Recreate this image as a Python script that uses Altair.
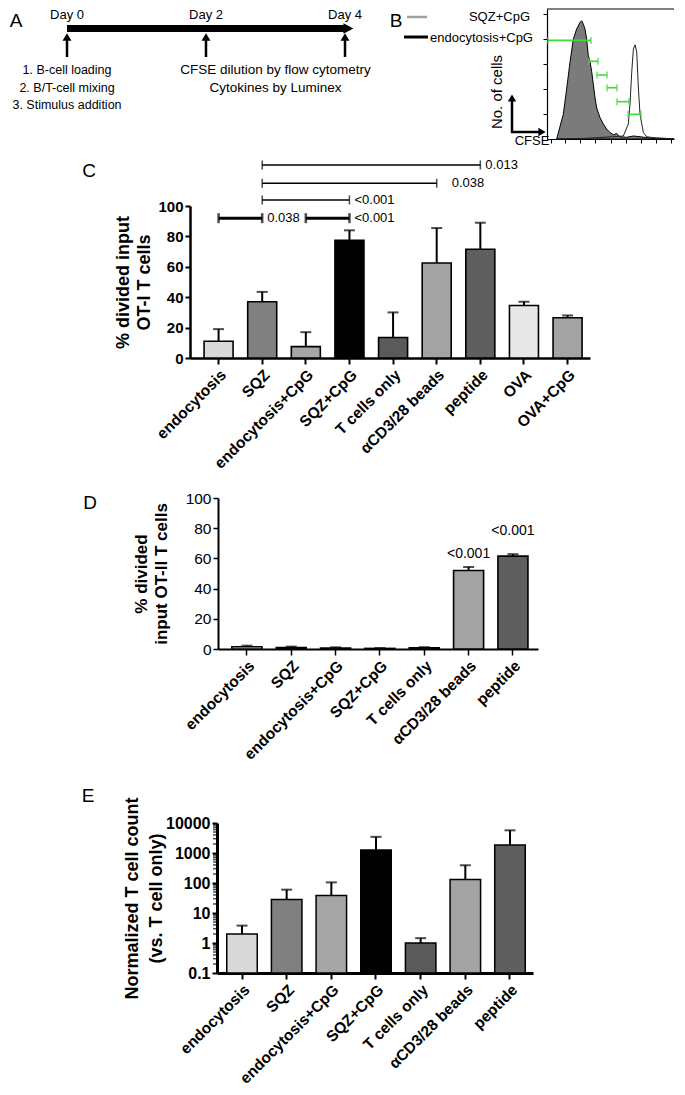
import altair as alt
import pandas as pd

FONT = "Liberation Sans"
OX = 8  # horizontal shift compensating the page margin
OY = 8  # vertical shift of the first row

# ---------------- Panel A : timeline ----------------
days = [0, 2, 4]
day_labels = ["Day 0", "Day 2", "Day 4"]
setup_steps = ["1. B-cell loading", "2. B/T-cell mixing", "3. Stimulus addition"]
readouts = ["CFSE dilution by flow cytometry", "Cytokines by Luminex"]

# ---------------- Panel B : CFSE histogram ----------------
legend_labels = ["SQZ+CpG", "endocytosis+CpG"]
cfse_filled = [7.0, 11.8, 14.3, 16.7, 19.1, 21.5, 23.9, 25.1, 26.3, 27.5, 28.7, 29.9, 31.2, 32.4,
               33.6, 34.8, 36.0, 38.4, 40.8, 43.2, 45.7, 48.1, 50.5, 52.9, 57.7, 62.6, 67.4, 74.6,
               86.7, 92.0]
count_filled = [0.0, 0.99, 2.04, 3.10, 4.02, 4.42, 4.68, 4.75, 4.61, 4.42, 4.02, 3.36, 3.10, 2.70,
                2.18, 1.65, 1.25, 0.86, 0.60, 0.40, 0.26, 0.17, 0.22, 0.09, 0.07, 0.12, 0.09, 0.04,
                0.02, 0.01]
cfse_open = [7.0, 28.7, 48.1, 55.3, 58.9, 60.1, 61.4, 62.6, 63.8, 65.0, 66.2, 67.4, 69.8, 72.2, 79.5, 92.0]
count_open = [0.0, 0.03, 0.09, 0.12, 0.60, 1.38, 2.70, 3.62, 3.78, 3.49, 2.04, 0.99, 0.26, 0.09, 0.04, 0.01]
gate_start = [0.7, 30.4, 36.2, 43.5, 50.7, 58.7]
gate_end = [31.9, 37.0, 43.5, 50.7, 59.4, 68.1]
gate_level = [3.96, 3.12, 2.57, 2.06, 1.50, 0.99]

# ---------------- Panel C : OT-I ----------------
cats_c = ["endocytosis", "SQZ", "endocytosis+CpG", "SQZ+CpG", "T cells only",
          "αCD3/28 beads", "peptide", "OVA", "OVA+CpG"]
mean_c = [11, 37, 7.5, 77.5, 13.5, 62.5, 71.5, 34.5, 26.5]
err_c = [19, 43.5, 17, 84, 30, 85.5, 89, 37, 28]
colors_c = ["#d9d9d9", "#808080", "#a6a6a6", "#000000", "#5a5a5a", "#a3a3a3", "#5f5f5f",
            "#e8e8e8", "#a3a3a3"]
cmp_from = ["endocytosis", "endocytosis+CpG", "SQZ", "SQZ", "SQZ"]
cmp_to = ["SQZ", "SQZ+CpG", "SQZ+CpG", "αCD3/28 beads", "peptide"]
cmp_level = [92, 92, 104, 115, 127]
cmp_p = ["0.038", "<0.001", "<0.001", "0.038", "0.013"]
cmp_thick = [True, True, False, False, False]

# ---------------- Panel D : OT-II ----------------
cats_d = ["endocytosis", "SQZ", "endocytosis+CpG", "SQZ+CpG", "T cells only",
          "αCD3/28 beads", "peptide"]
mean_d = [1.5, 1.0, 0.7, 0.4, 0.8, 52, 61.5]
err_d = [2.2, 1.6, 1.1, 0.6, 1.2, 54.3, 62.8]
colors_d = ["#d9d9d9", "#808080", "#a6a6a6", "#000000", "#5a5a5a", "#a3a3a3", "#5f5f5f"]
p_cats_d = ["αCD3/28 beads", "peptide"]
p_level_d = [63, 78]
p_text_d = ["<0.001", "<0.001"]

# ---------------- Panel E : normalized count ----------------
cats_e = cats_d
mean_e = [2.0, 28, 38, 1250, 1.0, 132, 1850]
err_e = [3.8, 60, 105, 3450, 1.45, 390, 5700]
colors_e = ["#d9d9d9", "#808080", "#a6a6a6", "#000000", "#5e5e5e", "#a6a6a6", "#5f5f5f"]
major_e = [0.1, 1, 10, 100, 1000, 10000]
minor_e = [m * 10.0 ** e for e in range(-1, 4) for m in range(2, 10)]


def x_axis(domain_w, tick_w):
    return alt.Axis(title=None, labelAngle=-45, labelAlign="right", labelBaseline="top",
                    labelFontSize=15.5, labelFontWeight="bold", labelColor="black",
                    labelPadding=3, tickSize=6, tickWidth=tick_w, tickColor="black",
                    domainColor="black", domainWidth=domain_w, labelLimit=300, grid=False,
                    labelOverlap=False)


one = pd.DataFrame({"a": [0]})


def letter(ch, x, y):
    return alt.Chart(one).mark_text(fontSize=19, align="center", baseline="middle", text=ch).encode(
        x=alt.value(x), y=alt.value(y))


# ================= Row 1 : A + B =================
xDay = alt.Scale(domain=[0, 4], range=[67 - OX, 345 - OX])
dfDays = pd.DataFrame({"day": days, "label": day_labels})
dayText = alt.Chart(dfDays).mark_text(fontSize=13, baseline="middle").encode(
    x=alt.X("day:Q", scale=xDay, axis=None), y=alt.value(11 - OY), text="label:N")
dfLine = pd.DataFrame({"start": [days[0]], "end": [days[-1]]})
timeline = alt.Chart(dfLine).mark_rule(strokeWidth=7, color="black", strokeCap="butt").encode(
    x=alt.X("start:Q", scale=xDay), x2="end:Q", y=alt.value(24.5 - OY))
arrowHead = alt.Chart(dfLine).mark_point(shape="M -0.3 -1 L 1.6 0 L -0.3 1 Z", filled=True,
                                         opacity=1, color="black", size=110).encode(
    x=alt.X("end:Q", scale=xDay), y=alt.value(24.5 - OY))
upShaft = alt.Chart(dfDays).mark_rule(strokeWidth=2.5, color="black").encode(
    x=alt.X("day:Q", scale=xDay), y=alt.value(53 - OY), y2=alt.value(35 - OY))
upHead = alt.Chart(dfDays).mark_point(shape="triangle-up", filled=True, opacity=1,
                                      color="black", size=80).encode(
    x=alt.X("day:Q", scale=xDay), y=alt.value(33 - OY))
lineScale = alt.Scale(domain=[1, 3], range=[66 - OY, 101 - OY])
dfSteps = pd.DataFrame({"t": setup_steps, "line": [1, 2, 3], "day": [days[0]] * 3})
stepText = alt.Chart(dfSteps).mark_text(fontSize=12.5, baseline="middle").encode(
    x=alt.X("day:Q", scale=xDay), y=alt.Y("line:Q", scale=lineScale, axis=None), text="t:N")
dfRead = pd.DataFrame({"t": readouts, "line": [1, 2], "day": [3, 3]})
readText = alt.Chart(dfRead).mark_text(fontSize=13.5, baseline="middle").encode(
    x=alt.X("day:Q", scale=xDay), y=alt.Y("line:Q", scale=lineScale, axis=None), text="t:N")
dfLeg = pd.DataFrame({"t": legend_labels})
legLine1 = alt.Chart(one).mark_rule(strokeWidth=2.5, color="#a0a0a0").encode(
    x=alt.value(407 - OX), x2=alt.value(427 - OX), y=alt.value(13 - OY))
legLine2 = alt.Chart(one).mark_rule(strokeWidth=3, color="black").encode(
    x=alt.value(404 - OX), x2=alt.value(428 - OX), y=alt.value(33 - OY))
legText1 = alt.Chart(dfLeg).transform_filter(alt.datum.t == legend_labels[0]).mark_text(
    fontSize=13, align="right", baseline="middle").encode(
    x=alt.value(530 - OX), y=alt.value(13 - OY), text="t:N")
legText2 = alt.Chart(dfLeg).transform_filter(alt.datum.t == legend_labels[1]).mark_text(
    fontSize=13, align="left", baseline="middle").encode(
    x=alt.value(430 - OX), y=alt.value(34 - OY), text="t:N")
noCells = alt.Chart(one).mark_text(fontSize=15, angle=270, baseline="middle", text="No. of cells").encode(
    x=alt.value(497 - OX), y=alt.value(88 - OY))
vArrow = alt.Chart(one).mark_rule(strokeWidth=2.5, color="black").encode(
    x=alt.value(512 - OX), y=alt.value(129 - OY), y2=alt.value(96 - OY))
vHead = alt.Chart(one).mark_point(shape="triangle-up", filled=True, opacity=1, color="black", size=70).encode(
    x=alt.value(512 - OX), y=alt.value(94 - OY))
hArrow = alt.Chart(one).mark_rule(strokeWidth=2.5, color="black").encode(
    x=alt.value(511 - OX), x2=alt.value(540 - OX), y=alt.value(128 - OY))
hHead = alt.Chart(one).mark_point(shape="triangle-right", filled=True, opacity=1, color="black", size=70).encode(
    x=alt.value(542 - OX), y=alt.value(128 - OY))
cfseText = alt.Chart(one).mark_text(fontSize=13, baseline="middle", text="CFSE").encode(
    x=alt.value(532 - OX), y=alt.value(137 - OY))

layerA = alt.layer(dayText, timeline, arrowHead, upShaft, upHead, stepText, readText,
                   letter("A", 16 - OX, 17 - OY), letter("B", 396 - OX, 17 - OY), legLine1,
                   legLine2, legText1, legText2, noCells, vArrow, vHead, hArrow, hHead, cfseText)

xH = alt.Scale(domain=[0, 92.0], range=[547 - OX, 674 - OX], nice=False, zero=False)
yH = alt.Scale(domain=[0, 5.22], range=[135 - OY, 5 - OY], nice=False)
dfF = pd.DataFrame({"x": cfse_filled, "y": count_filled})
dfO = pd.DataFrame({"x": cfse_open, "y": count_open})
dfG = pd.DataFrame({"s": gate_start, "e": gate_end, "lv": gate_level})
dfGE = pd.DataFrame({"x": gate_start + gate_end, "lv": gate_level + gate_level})
areaF = alt.Chart(dfF).mark_area(fill="#7b7b7b", stroke="black", strokeWidth=1).encode(
    x=alt.X("x:Q", scale=xH, axis=alt.Axis(orient="bottom", values=[3, 13, 24, 35, 46, 57, 68, 79, 90],
                                           tickCount=30, labels=False, title=None, tickSize=4,
                                           tickColor="black", domainColor="black",
                                           domainWidth=1.2, grid=False)),
    y=alt.Y("y:Q", scale=yH, axis=alt.Axis(orient="left", offset=-(547 - OX), values=[1, 2, 3, 4, 5],
                                           tickCount=20, labels=False, title=None, tickSize=4,
                                           tickColor="black", domainColor="black",
                                           domainWidth=1.2, grid=False)))
lineO = alt.Chart(dfO).mark_line(color="#222222", strokeWidth=1).encode(
    x=alt.X("x:Q", scale=xH), y=alt.Y("y:Q", scale=yH))
topBorder = alt.Chart(one).mark_rule(color="black", strokeWidth=1.2).encode(
    x=alt.value(547 - OX), x2=alt.value(674 - OX), y=alt.value(5 - OY))
gates = alt.Chart(dfG).mark_rule(color="#3ddc3d", strokeWidth=1.6).encode(
    x=alt.X("s:Q", scale=xH), x2="e:Q", y=alt.Y("lv:Q", scale=yH))
gateEnds = alt.Chart(dfGE).mark_tick(orient="vertical", color="#3ddc3d", thickness=1.6, size=7).encode(
    x=alt.X("x:Q", scale=xH), y=alt.Y("lv:Q", scale=yH))
layerB = alt.layer(areaF, lineO, topBorder, gates, gateEnds)

row1 = alt.layer(layerA, layerB).resolve_scale(x="independent", y="independent").properties(
    width=674 - OX, height=135 - OY)


def gap(h):
    return alt.Chart(pd.DataFrame({"t": [""]})).mark_text().encode(
        text="t:N", x=alt.value(0), y=alt.value(0)).properties(width=10, height=h)


# ================= Panel C =================
dfC = pd.DataFrame({"cat": cats_c, "mean": mean_c, "err": err_c})
sxC = alt.Scale(domain=cats_c, range=[190 - OX, 590 - OX], paddingInner=0.335, paddingOuter=0.252,
                align=0.64)
syC = alt.Scale(domain=[0, 100], nice=False)
barsC = alt.Chart(dfC).mark_bar(stroke="black", strokeWidth=1.6).encode(
    x=alt.X("cat:N", scale=sxC, axis=x_axis(2.5, 2)),
    y=alt.Y("mean:Q", scale=syC, axis=alt.Axis(
        offset=-(190 - OX), values=[0, 20, 40, 60, 80, 100], tickCount=12,
        title=["% divided input", "OT-I T cells"],
        titleFontSize=18, titleFontWeight="bold", titleLineHeight=21, titleColor="black",
        titlePadding=4, labelFontSize=15, labelFontWeight="bold", labelColor="black",
        labelPadding=2, tickSize=5, tickWidth=2, tickColor="black", domainColor="black",
        domainWidth=2.5, grid=False, labelOverlap=False)),
    color=alt.Color("cat:N", scale=alt.Scale(domain=cats_c, range=colors_c), legend=None))
errC = alt.Chart(dfC).mark_rule(strokeWidth=2, color="black").encode(
    x=alt.X("cat:N", scale=sxC), y=alt.Y("mean:Q", scale=syC), y2="err:Q")
capC = alt.Chart(dfC).mark_tick(color="black", thickness=2, size=11).encode(
    x=alt.X("cat:N", scale=sxC), y=alt.Y("err:Q", scale=syC))
dfCmp = pd.DataFrame({"from": cmp_from, "to": cmp_to, "level": cmp_level, "p": cmp_p,
                      "thick": cmp_thick})
dfEnds = pd.DataFrame({"cat": cmp_from + cmp_to, "level": cmp_level + cmp_level,
                       "thick": cmp_thick + cmp_thick})
brLines = alt.Chart(dfCmp).mark_rule(color="black").encode(
    x=alt.X("from:N", scale=sxC), x2="to:N", y=alt.Y("level:Q", scale=syC),
    strokeWidth=alt.condition("datum.thick", alt.value(3), alt.value(1.5)))
brEndsThick = alt.Chart(dfEnds).transform_filter("datum.thick").mark_tick(
    orient="vertical", color="black", thickness=2.5, size=10).encode(
    x=alt.X("cat:N", scale=sxC), y=alt.Y("level:Q", scale=syC))
brEndsThin = alt.Chart(dfEnds).transform_filter("!datum.thick").mark_tick(
    orient="vertical", color="black", thickness=1.5, size=9).encode(
    x=alt.X("cat:N", scale=sxC), y=alt.Y("level:Q", scale=syC))
brText = alt.Chart(dfCmp).transform_filter(alt.datum.to != "αCD3/28 beads").mark_text(
    align="left", baseline="middle", dx=5, fontSize=13).encode(
    x=alt.X("to:N", scale=sxC), y=alt.Y("level:Q", scale=syC), text="p:N")
brText2 = alt.Chart(dfCmp).transform_filter(alt.datum.to == "αCD3/28 beads").mark_text(
    align="left", baseline="middle", dx=15, fontSize=13).encode(
    x=alt.X("to:N", scale=sxC), y=alt.Y("level:Q", scale=syC), text="p:N")
chartC = alt.layer(barsC, errC, capC, brLines, brEndsThick, brEndsThin, brText, brText2,
                   letter("C", 89 - OX, -35)).properties(width=590 - OX, height=152)

# ================= Panel D =================
dfD = pd.DataFrame({"cat": cats_d, "mean": mean_d, "err": err_d})
sxD = alt.Scale(domain=cats_d, range=[218 - OX, 538 - OX], paddingInner=0.323, paddingOuter=0.27,
                align=0.58)
syD = alt.Scale(domain=[0, 100], nice=False)
barsD = alt.Chart(dfD).mark_bar(stroke="black", strokeWidth=1.6).encode(
    x=alt.X("cat:N", scale=sxD, axis=x_axis(2, 1.5)),
    y=alt.Y("mean:Q", scale=syD, axis=alt.Axis(
        offset=-(218 - OX), values=[0, 20, 40, 60, 80, 100], tickCount=12,
        title=["% divided", "input OT-II T cells"],
        titleFontSize=17, titleFontWeight="bold", titleLineHeight=20, titleColor="black",
        titlePadding=15, labelFontSize=15.5, labelColor="black",
        labelPadding=2, tickSize=5, tickWidth=1.5, tickColor="black", domainColor="black",
        domainWidth=2, grid=False, labelOverlap=False)),
    color=alt.Color("cat:N", scale=alt.Scale(domain=cats_d, range=colors_d), legend=None))
errD = alt.Chart(dfD).mark_rule(strokeWidth=2, color="black").encode(
    x=alt.X("cat:N", scale=sxD), y=alt.Y("mean:Q", scale=syD), y2="err:Q")
capD = alt.Chart(dfD).mark_tick(color="black", thickness=2, size=11).encode(
    x=alt.X("cat:N", scale=sxD), y=alt.Y("err:Q", scale=syD))
dfPD = pd.DataFrame({"cat": p_cats_d, "level": p_level_d, "p": p_text_d})
pTextD = alt.Chart(dfPD).mark_text(baseline="middle", fontSize=14).encode(
    x=alt.X("cat:N", scale=sxD), y=alt.Y("level:Q", scale=syD), text="p:N")
chartD = alt.layer(barsD, errD, capD, pTextD, letter("D", 90 - OX, 5)).properties(
    width=538 - OX, height=151)

# ================= Panel E =================
dfE = pd.DataFrame({"cat": cats_e, "mean": mean_e, "err": err_e})
sxE = alt.Scale(domain=cats_e, range=[217 - OX, 533 - OX], paddingInner=0.317, paddingOuter=0.196,
                align=0.557)
syE = alt.Scale(type="log", domain=[0.1, 10000], nice=False)
barsE = alt.Chart(dfE).mark_bar(stroke="black", strokeWidth=1.5).encode(
    x=alt.X("cat:N", scale=sxE, axis=x_axis(3, 2)),
    y=alt.Y("mean:Q", scale=syE, axis=alt.Axis(
        offset=-(217 - OX), values=major_e, tickCount=12, format=".1~f",
        title=["Normalized T cell count", "(vs. T cell only)"],
        titleFontSize=18, titleFontWeight="bold", titleLineHeight=24, titleColor="black",
        titlePadding=0, labelFontSize=16, labelFontWeight="bold", labelColor="black",
        labelPadding=2, tickSize=5, tickWidth=2, tickColor="black", domainColor="black",
        domainWidth=3, grid=False, labelOverlap=False)),
    y2=alt.datum(major_e[0]),
    color=alt.Color("cat:N", scale=alt.Scale(domain=cats_e, range=colors_e), legend=None))
errE = alt.Chart(dfE).mark_rule(strokeWidth=2, color="black").encode(
    x=alt.X("cat:N", scale=sxE), y=alt.Y("mean:Q", scale=syE), y2="err:Q")
capE = alt.Chart(dfE).mark_tick(color="black", thickness=2, size=11).encode(
    x=alt.X("cat:N", scale=sxE), y=alt.Y("err:Q", scale=syE))
dfMinor = pd.DataFrame({"v": minor_e})
minorE = alt.Chart(dfMinor).mark_tick(orient="horizontal", color="black", thickness=1.5, size=4).encode(
    x=alt.value(217 - OX - 2), y=alt.Y("v:Q", scale=syE))
chartE = alt.layer(barsE, errE, capE, minorE, letter("E", 88 - OX, -27)).properties(
    width=533 - OX, height=150)

chart = alt.vconcat(row1, gap(66.5), chartC, gap(140), chartD, gap(174), chartE,
                    spacing=0, bounds="flush").properties(padding=0).configure_view(
    stroke=None).configure_axis(labelFont=FONT, titleFont=FONT).configure_text(
    font=FONT, color="black")

chart.save("out.html", embed_options={"renderer": "svg", "actions": False})
